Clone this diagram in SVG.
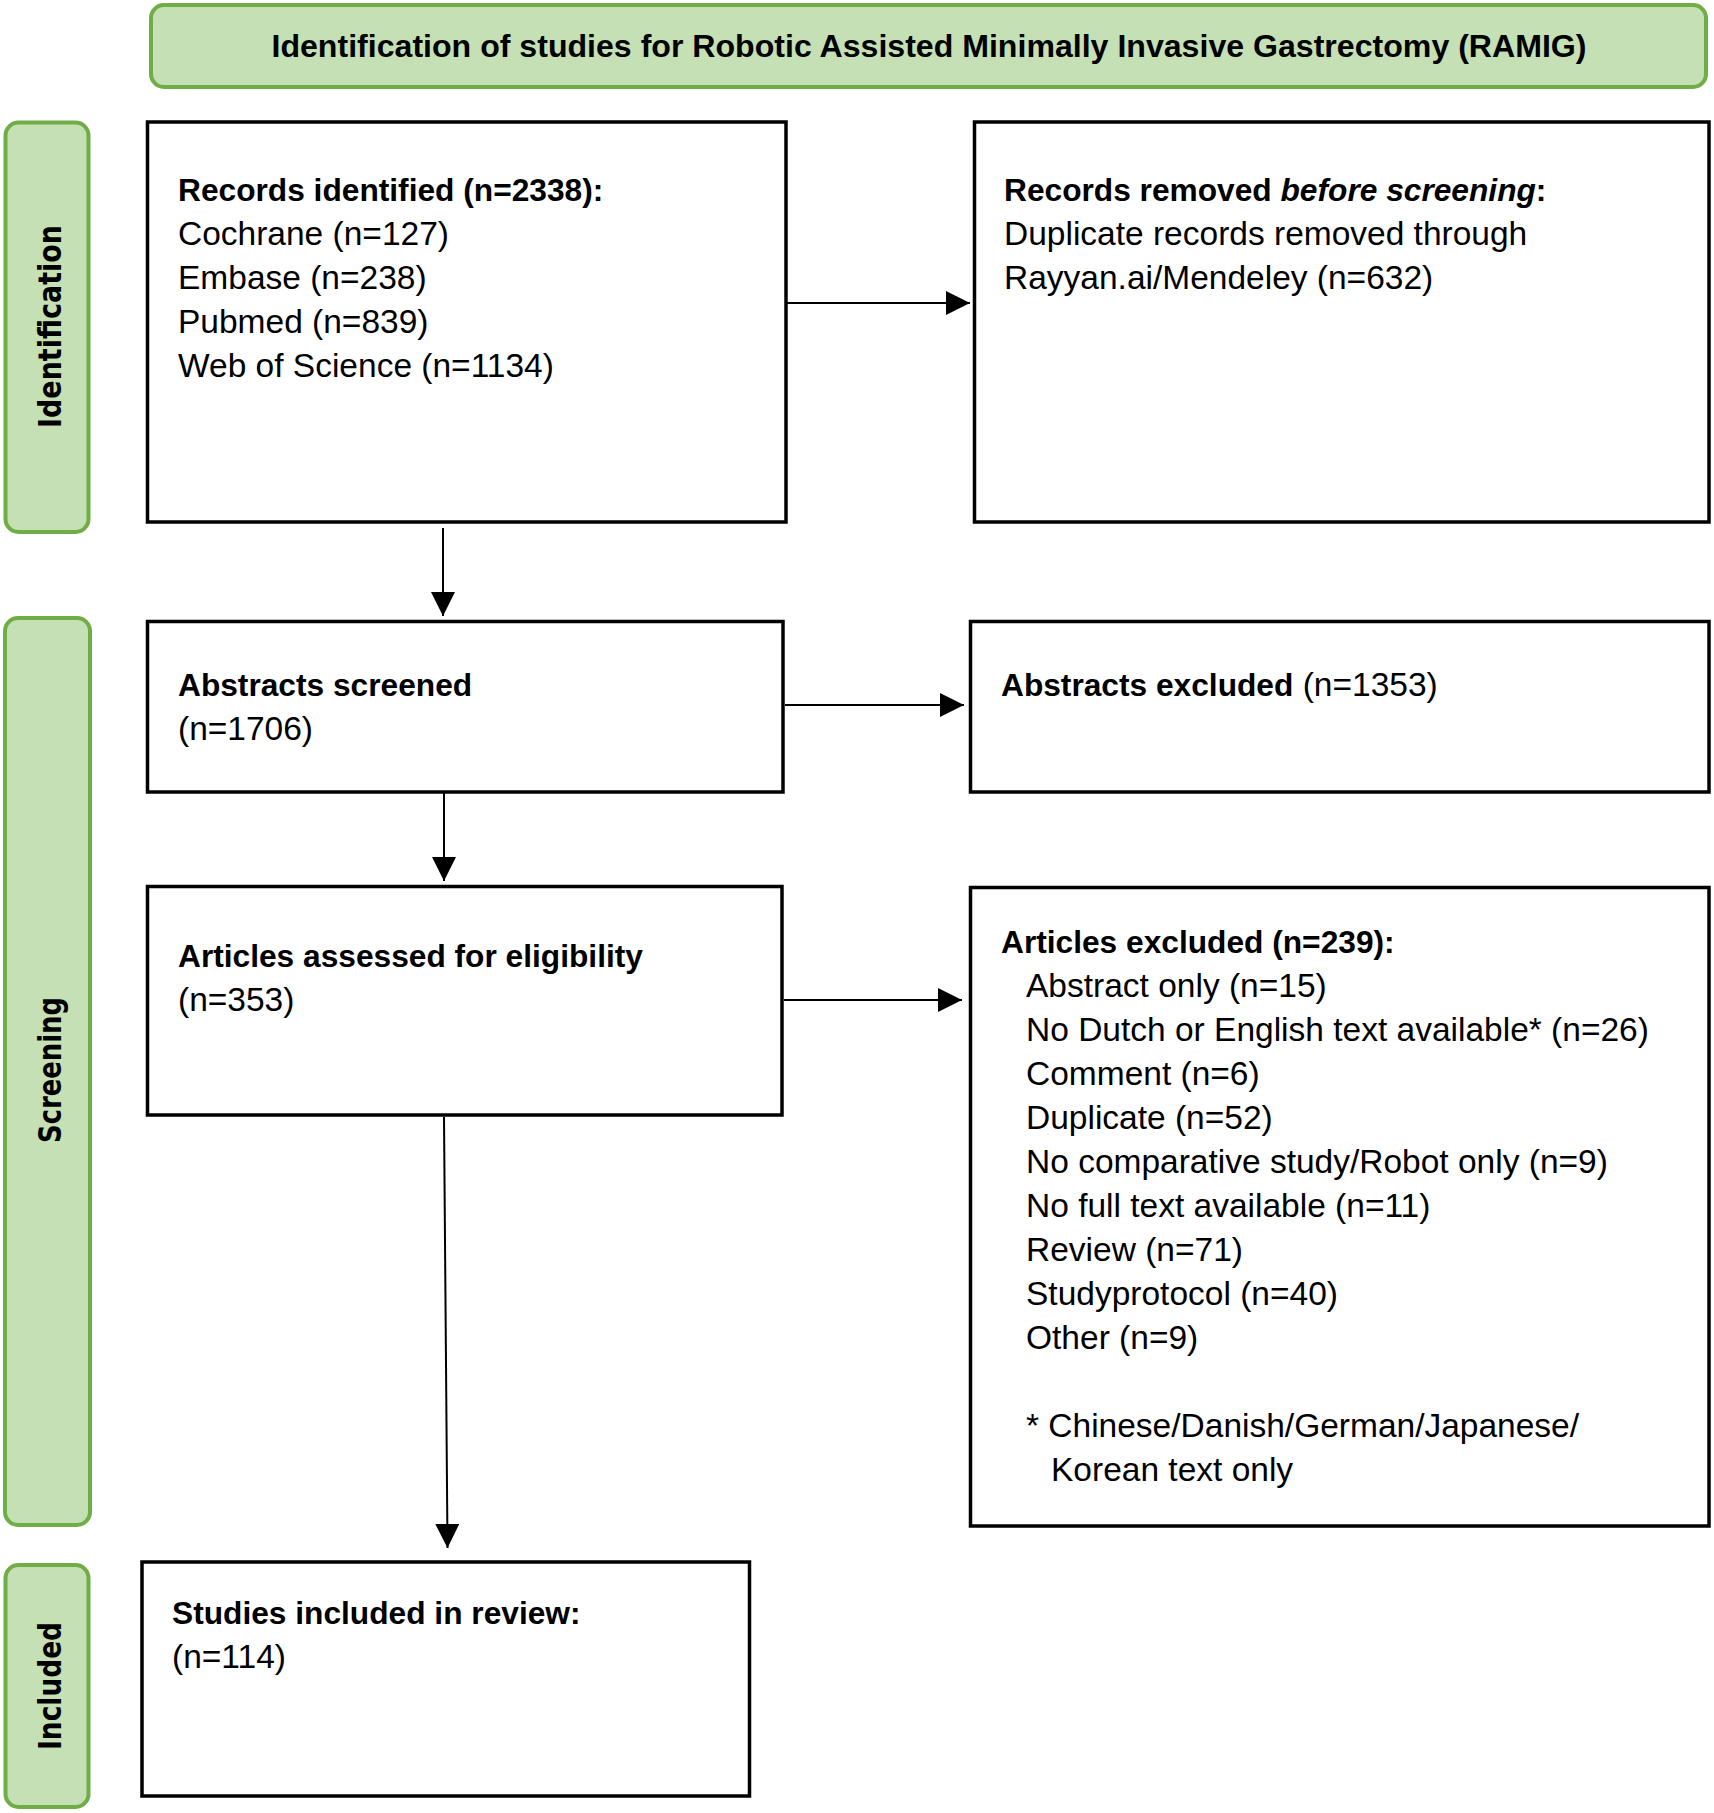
<svg xmlns="http://www.w3.org/2000/svg" width="1714" height="1813" viewBox="0 0 1714 1813">
<style>
.band{fill:#C5E0B4;stroke:#70AD47;stroke-width:4}
.box{fill:#FFFFFF;stroke:#000000;stroke-width:3.5}
.t{font-family:"Liberation Sans",Arial,sans-serif;font-size:33.5px;fill:#000000}
.b{font-weight:bold;font-size:31.7px}
.ttl{font-family:"Liberation Sans",Arial,sans-serif;font-size:32px;font-weight:bold;fill:#000000}
.side{font-family:"DejaVu Sans",Verdana,sans-serif;font-size:32px;font-weight:bold;fill:#000000}
.con{fill:none;stroke:#000000;stroke-width:2}
</style>
<defs>
<marker id="arr" markerUnits="userSpaceOnUse" markerWidth="24" markerHeight="24" refX="24" refY="12" orient="auto">
<path d="M0,0 L24,12 L0,24 Z" fill="#000000"/>
</marker>
</defs>
<rect width="1714" height="1813" fill="#FFFFFF"/>

<g id="title">
<rect class="band" x="151" y="5" width="1555" height="82" rx="13" ry="13"/>
<text class="ttl" x="929" y="57" text-anchor="middle" textLength="1315" lengthAdjust="spacingAndGlyphs">Identification of studies for Robotic Assisted Minimally Invasive Gastrectomy (RAMIG)</text>
</g>

<g id="phase-identification">
<rect class="band" x="5.5" y="122.5" width="83" height="409.5" rx="13" ry="13"/>
<text class="side" transform="translate(61,326.5) rotate(-90)" x="0" y="0" text-anchor="middle" textLength="203" lengthAdjust="spacingAndGlyphs">Identification</text>
</g>
<g id="phase-screening">
<rect class="band" x="5" y="618" width="85" height="907" rx="13" ry="13"/>
<text class="side" transform="translate(61,1070) rotate(-90)" x="0" y="0" text-anchor="middle" textLength="146" lengthAdjust="spacingAndGlyphs">Screening</text>
</g>
<g id="phase-included">
<rect class="band" x="5.5" y="1565" width="83" height="242" rx="13" ry="13"/>
<text class="side" transform="translate(61,1686) rotate(-90)" x="0" y="0" text-anchor="middle" textLength="128" lengthAdjust="spacingAndGlyphs">Included</text>
</g>

<g id="records-identified">
<rect class="box" x="147.5" y="122" width="638.5" height="400"/>
<text class="t b" x="178" y="201">Records identified (n=2338):</text>
<text class="t" x="178" y="245">Cochrane (n=127)</text>
<text class="t" x="178" y="289">Embase (n=238)</text>
<text class="t" x="178" y="333">Pubmed (n=839)</text>
<text class="t" x="178" y="377">Web of Science (n=1134)</text>
</g>

<g id="records-removed">
<rect class="box" x="974.5" y="122" width="734.5" height="400"/>
<text class="t" x="1004" y="201"><tspan class="b">Records removed </tspan><tspan class="b" font-style="italic">before screening</tspan><tspan class="b">:</tspan></text>
<text class="t" x="1004" y="245">Duplicate records removed through</text>
<text class="t" x="1004" y="289">Rayyan.ai/Mendeley (n=632)</text>
</g>

<g id="abstracts-screened">
<rect class="box" x="147.5" y="621.5" width="635.5" height="170.5"/>
<text class="t b" x="178" y="696">Abstracts screened</text>
<text class="t" x="178" y="740">(n=1706)</text>
</g>

<g id="abstracts-excluded">
<rect class="box" x="970.5" y="621.5" width="738.5" height="170.5"/>
<text class="t" x="1001" y="696"><tspan class="b">Abstracts excluded</tspan> (n=1353)</text>
</g>

<g id="articles-assessed">
<rect class="box" x="147.5" y="886.5" width="634.5" height="228.5"/>
<text class="t b" x="178" y="967">Articles assessed for eligibility</text>
<text class="t" x="178" y="1011">(n=353)</text>
</g>

<g id="articles-excluded">
<rect class="box" x="970.5" y="887.5" width="738.5" height="638.5"/>
<text class="t b" x="1001" y="953">Articles excluded (n=239):</text>
<text class="t" x="1026" y="997">Abstract only (n=15)</text>
<text class="t" x="1026" y="1041">No Dutch or English text available* (n=26)</text>
<text class="t" x="1026" y="1085">Comment (n=6)</text>
<text class="t" x="1026" y="1129">Duplicate (n=52)</text>
<text class="t" x="1026" y="1173">No comparative study/Robot only (n=9)</text>
<text class="t" x="1026" y="1217">No full text available (n=11)</text>
<text class="t" x="1026" y="1261">Review (n=71)</text>
<text class="t" x="1026" y="1305">Studyprotocol (n=40)</text>
<text class="t" x="1026" y="1349">Other (n=9)</text>
<text class="t" x="1026" y="1437">* Chinese/Danish/German/Japanese/</text>
<text class="t" x="1051" y="1481">Korean text only</text>
</g>

<g id="studies-included">
<rect class="box" x="142" y="1562" width="607.5" height="234"/>
<text class="t b" x="172" y="1624">Studies included in review:</text>
<text class="t" x="172" y="1668">(n=114)</text>
</g>

<g id="connectors">
<line class="con" x1="787" y1="303" x2="970" y2="303" marker-end="url(#arr)"/>
<line class="con" x1="443" y1="528" x2="443" y2="616" marker-end="url(#arr)"/>
<line class="con" x1="785" y1="705" x2="964" y2="705" marker-end="url(#arr)"/>
<line class="con" x1="444" y1="793" x2="444" y2="881" marker-end="url(#arr)"/>
<line class="con" x1="784" y1="1000" x2="962" y2="1000" marker-end="url(#arr)"/>
<line class="con" x1="444" y1="1117" x2="447.5" y2="1548" marker-end="url(#arr)"/>
</g>
</svg>
